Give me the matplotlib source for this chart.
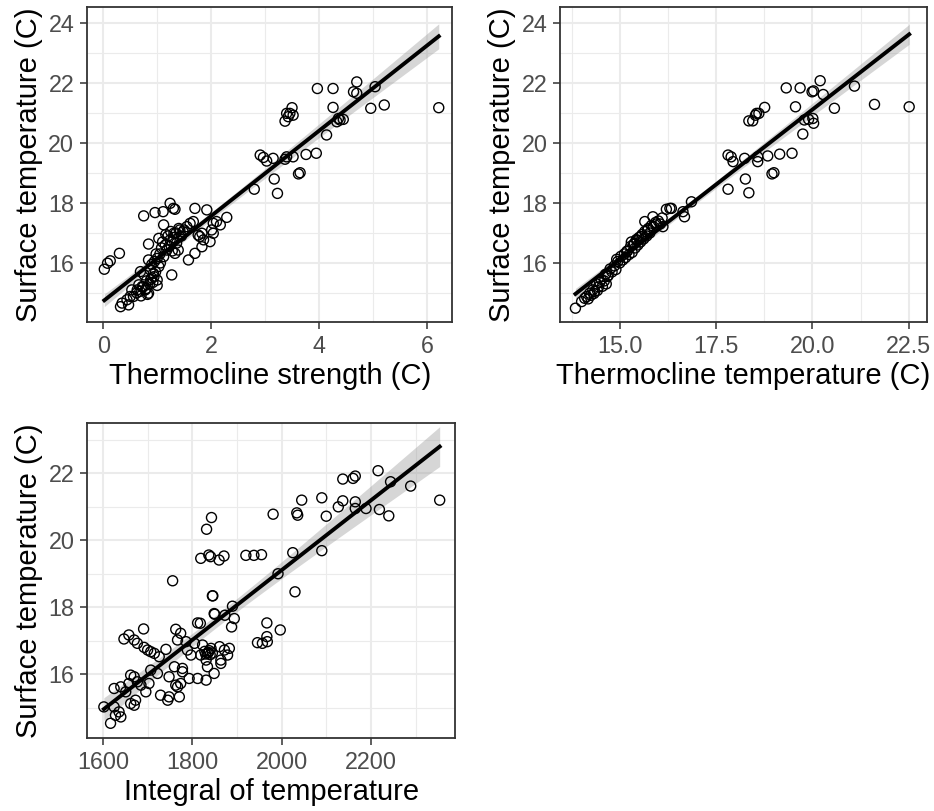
import numpy as np
import matplotlib.pyplot as plt
from matplotlib.ticker import MultipleLocator

plt.rcParams['font.family'] = ['Liberation Sans', 'DejaVu Sans']

# panel 1: thermocline strength vs surface temperature
strength = [3.97, 4.26, 4.70, 4.64, 4.70, 5.04, 4.26, 4.96, 5.21, 6.22,
            3.50, 3.40, 3.52, 3.37, 3.46, 3.43,
            4.33, 4.39, 4.45, 4.36, 4.14,
            2.91, 2.97, 3.03, 3.15, 3.37, 3.40, 3.52, 3.76, 3.95,
            3.62, 3.65, 3.17, 3.23, 2.80,
            1.70, 1.92, 1.30, 1.33, 1.24, 1.11, 0.96, 0.75,
            2.04, 2.10, 2.29, 2.01, 1.98, 2.04, 2.17,
            1.79, 1.83, 1.76, 1.83, 1.86,
            1.58, 1.70, 1.55, 1.67, 1.61, 1.42,
            1.36, 1.42, 1.48, 1.33, 1.39, 1.27,
            1.12, 1.03, 0.84, 0.84,
            0.02, 0.08, 0.13, 0.30,
            0.32, 0.35, 0.44, 0.50, 0.47, 0.53,
            0.69, 0.66, 0.72, 0.78, 0.84, 0.63, 0.56,
            1.00, 0.94, 0.87, 1.03, 1.12, 1.18, 1.24, 1.31,
            0.90, 0.95, 1.00, 1.05, 1.08, 1.15, 1.20, 1.25, 1.30, 1.35, 1.40,
            0.97, 0.92, 1.06, 1.10, 1.16, 1.22, 1.00, 0.80, 0.76, 1.45, 1.50,
            1.28, 0.98,
            0.62, 0.68, 0.74, 0.80, 0.86, 0.90, 0.82, 0.70, 0.93, 0.88]
surf1 = [21.82, 21.82, 22.04, 21.71, 21.66, 21.88, 21.19, 21.16, 21.27, 21.18,
         21.18, 20.99, 20.93, 20.73, 20.99, 20.88,
         20.71, 20.77, 20.79, 20.82, 20.27,
         19.60, 19.52, 19.40, 19.49, 19.46, 19.54, 19.54, 19.62, 19.66,
         18.97, 19.01, 18.80, 18.32, 18.46,
         17.82, 17.77, 17.82, 17.79, 17.99, 17.71, 17.68, 17.57,
         17.32, 17.38, 17.52, 17.10, 16.71, 16.99, 17.27,
         16.88, 16.99, 16.93, 16.54, 16.77,
         16.10, 16.32, 17.21, 17.38, 17.32, 17.10,
         16.66, 16.88, 17.04, 16.32, 16.43, 15.60,
         17.27, 16.82, 16.63, 16.10,
         15.79, 15.99, 16.07, 16.32,
         14.54, 14.66, 14.77, 14.88, 14.60, 15.10,
         15.71, 15.27, 15.21, 15.10, 14.99, 15.10, 14.88,
         15.43, 15.54, 15.77, 15.88, 16.21, 16.43, 16.77, 16.99,
         15.95, 16.05, 16.15, 16.30, 16.50, 16.60, 16.90, 17.05, 16.85, 17.00, 17.15,
         15.70, 15.35, 16.00, 16.70, 16.95, 16.55, 15.25, 15.40, 15.60, 16.90, 17.10,
         16.40, 16.30,
         15.00, 15.05, 15.20, 15.15, 15.30, 15.50, 14.95, 14.90, 15.65, 15.45]

# panel 2: thermocline temperature vs surface temperature
thermo = [17.81, 18.35, 18.26, 17.81, 17.89, 17.94, 18.24, 18.58, 18.58, 18.84, 19.15, 19.47, 18.95, 19.00,
          18.35, 18.45, 18.52, 18.61, 18.76, 18.55,
          19.32, 19.68, 20.03, 19.99, 20.20, 20.28, 21.09,
          19.56, 20.57, 21.61, 22.51,
          19.79, 19.90, 20.01, 20.03, 19.75,
          16.64, 16.86, 16.68, 16.34, 16.21, 16.12, 15.86, 15.65, 16.30,
          13.85, 14.01, 14.14, 14.22, 14.09,
          14.30, 14.35, 14.40, 14.48, 14.52, 14.60, 14.63, 14.70, 14.75, 14.80,
          14.86, 14.90, 14.95, 15.00, 15.03, 15.08, 15.12, 15.15, 15.20, 15.24,
          15.28, 15.32, 15.36, 15.40, 15.43, 15.47, 15.50, 15.54, 15.58, 15.62,
          15.65, 15.70, 15.74, 15.78, 15.82, 15.88, 15.93, 16.00, 16.05, 16.10,
          14.45, 14.68, 14.92, 15.18, 15.38, 15.55, 15.72, 15.95, 15.30, 15.45,
          14.18, 14.25, 14.33, 14.42, 14.55, 14.65]
surf2 = [18.46, 18.34, 18.80, 19.60, 19.54, 19.38, 19.49, 19.54, 19.38, 19.57, 19.63, 19.66, 18.97, 19.01,
         20.74, 20.74, 20.93, 20.99, 21.19, 20.99,
         21.84, 21.84, 21.74, 21.71, 22.08, 21.62, 21.90,
         21.21, 21.16, 21.29, 21.21,
         20.77, 20.79, 20.82, 20.66, 20.30,
         17.71, 18.04, 17.54, 17.82, 17.79, 17.21, 17.54, 17.38, 17.82,
         14.49, 14.71, 14.88, 14.99, 14.82,
         15.10, 15.05, 15.30, 15.35, 15.45, 15.40, 15.62, 15.58, 15.80, 15.70,
         15.90, 15.78, 16.05, 16.00, 16.22, 16.10, 16.30, 16.18, 16.40, 16.28,
         16.55, 16.35, 16.62, 16.50, 16.78, 16.60, 16.85, 16.70, 16.95, 16.80,
         17.05, 16.90, 17.15, 17.00, 17.25, 17.20, 17.35, 17.40, 17.30, 17.50,
         15.20, 15.55, 16.12, 16.38, 16.65, 16.88, 17.10, 17.30, 16.70, 16.75,
         14.80, 14.92, 14.98, 15.08, 15.22, 15.30]

# panel 3: integral of temperature vs surface temperature
integ = [2216, 2137, 2160, 2165, 2244, 2289, 2354, 2090, 2045,
         2137, 2165, 2127, 2165, 2189, 2219, 2240, 2100, 2034, 2036, 1981,
         1843, 1832, 1837, 1841, 1860, 1871, 1819, 1920, 1938, 1955, 2025, 2090,
         1992, 1845, 2030, 1890, 1873, 1850, 1894, 1967, 1997,
         1756, 1846, 1888, 1849, 1812, 1818,
         1691, 1647, 1658, 1670, 1677, 1763, 1774, 1767, 1786,
         1741, 1726, 1715, 1707, 1700, 1692, 1834,
         1805, 1823, 1842, 1861, 1872, 1883, 1879, 1864, 1831, 1819, 1797, 1789,
         1834, 1849, 1864, 1831, 1812, 1793,
         1778, 1778, 1760, 1748, 1763, 1767, 1774, 1771, 1748, 1745, 1729,
         1602, 1617, 1628, 1636, 1640, 1625, 1625, 1640, 1651, 1658, 1670, 1677,
         1662, 1670, 1662, 1673, 1696, 1703, 1685, 1707, 1722,
         1946, 1957, 1968, 1967,
         1830, 1836, 1840, 1828, 1838, 1845]
surf3 = [22.08, 21.83, 21.85, 21.92, 21.75, 21.62, 21.20, 21.27, 21.20,
         21.18, 21.15, 21.00, 20.95, 20.95, 20.92, 20.73, 20.72, 20.82, 20.75, 20.78,
         20.68, 20.33, 19.56, 19.51, 19.41, 19.53, 19.46, 19.55, 19.55, 19.57, 19.63, 19.69,
         19.00, 18.34, 18.46, 18.03, 17.76, 17.79, 17.66, 17.53, 17.32,
         18.79, 18.34, 17.41, 17.81, 17.53, 17.52,
         17.35, 17.05, 17.17, 17.02, 16.92, 17.34, 17.22, 17.02, 16.97,
         16.74, 16.52, 16.62, 16.67, 16.72, 16.80, 16.62,
         16.92, 16.87, 16.77, 16.82, 16.72, 16.77, 16.57, 16.42, 16.42, 16.57, 16.57, 16.72,
         16.22, 16.02, 16.32, 15.82, 15.87, 15.87,
         16.17, 16.07, 16.22, 15.92, 15.67, 15.62, 15.72, 15.32, 15.32, 15.22, 15.37,
         15.02, 14.53, 14.77, 14.87, 14.72, 15.02, 15.57, 15.62, 15.47, 15.72, 15.92, 15.77,
         15.97, 15.07, 15.12, 15.22, 15.47, 15.72, 15.67, 16.12, 16.02,
         16.94, 16.92, 16.97, 17.12,
         16.60, 16.65, 16.58, 16.68, 16.70, 16.63]

ylabel = "Surface temperature (C)"


def panel(rect, x, y, xlab, xlim, ylim, xmaj, xmin, xfmt):
    ax = fig.add_axes(rect)
    x = np.asarray(x, float)
    y = np.asarray(y, float)
    # linear fit with 95% band, like geom_smooth(method = "lm")
    b, a = np.polyfit(x, y, 1)
    n = len(x)
    res = y - (a + b * x)
    s = np.sqrt(np.sum(res ** 2) / (n - 2))
    sxx = np.sum((x - x.mean()) ** 2)
    xs = np.linspace(x.min(), x.max(), 200)
    ys = a + b * xs
    se = s * np.sqrt(1.0 / n + (xs - x.mean()) ** 2 / sxx)
    ax.fill_between(xs, ys - 1.97 * se, ys + 1.97 * se, color='#999999', alpha=0.4, lw=0, zorder=2)
    ax.scatter(x, y, s=52, facecolors='none', edgecolors='black', linewidths=1.0, zorder=3)
    ax.plot(xs, ys, color='black', lw=2.8, zorder=4)

    ax.set_xlim(*xlim)
    ax.set_ylim(*ylim)
    ax.xaxis.set_major_locator(MultipleLocator(xmaj))
    ax.xaxis.set_minor_locator(MultipleLocator(xmin))
    ax.yaxis.set_major_locator(MultipleLocator(2))
    ax.yaxis.set_minor_locator(MultipleLocator(1))
    ax.xaxis.set_major_formatter(xfmt)
    ax.set_axisbelow(True)
    ax.grid(which='major', color='#EBEBEB', lw=1.5)
    ax.grid(which='minor', color='#EBEBEB', lw=0.8)
    for sp in ax.spines.values():
        sp.set_color('#333333')
        sp.set_linewidth(1.3)
    ax.tick_params(which='major', length=5.3, width=1.1, color='#333333',
                   labelsize=16.8, labelcolor='#4D4D4D', pad=4)
    ax.tick_params(which='minor', length=0)
    ax.set_xlabel(xlab, fontsize=21, labelpad=3)
    ax.set_ylabel(ylabel, fontsize=21, labelpad=4)
    return ax


fig = plt.figure(figsize=(9.34, 8.11), dpi=100)

panel([0.0932, 0.603, 0.391, 0.388], strength, surf1, "Thermocline strength (C)",
      (-0.30, 6.47), (14.03, 24.53), 2, 1, lambda v, p: f"{v:.0f}")
panel([0.600, 0.603, 0.392, 0.388], thermo, surf2, "Thermocline temperature (C)",
      (13.46, 22.96), (14.03, 24.53), 2.5, 1.25, lambda v, p: f"{v:.1f}")
panel([0.0935, 0.090, 0.394, 0.389], integ, surf3, "Integral of temperature",
      (1565, 2389), (14.09, 23.52), 200, 100, lambda v, p: f"{v:.0f}")

fig.savefig("out.png", dpi=100)
